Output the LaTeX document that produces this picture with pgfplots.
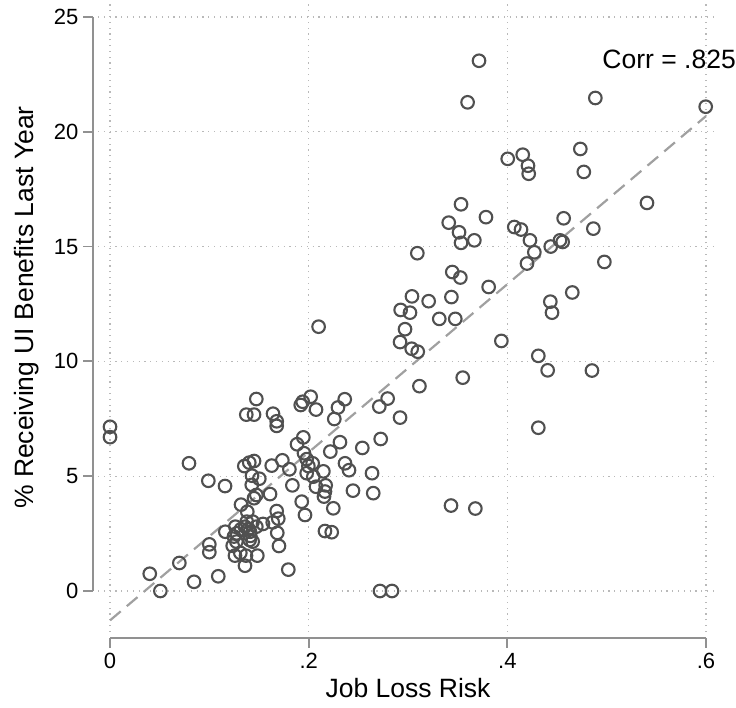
\documentclass[border=0pt]{standalone}
\usepackage{fontspec}
\setmainfont{Liberation Sans}
\usepackage{pgfplots}
\pgfplotsset{compat=1.18}
\definecolor{mk}{RGB}{80,80,80}
\definecolor{fitc}{RGB}{160,160,160}
\definecolor{axc}{RGB}{145,145,145}
\definecolor{grc}{RGB}{185,185,185}
\begin{document}
\begin{tikzpicture}
\useasboundingbox (-98pt,-76pt) rectangle (638pt,632pt);
\begin{axis}[
  scale only axis, width=620pt, height=630pt,
  xmin=-0.0121, xmax=0.6121, ymin=-1.786, ymax=25.65,
  clip=false,
  axis line style={draw=none}, tick style={draw=none},
  xtick={0,0.2,0.4,0.6}, xticklabels={0,.2,.4,.6},
  ytick={0,5,10,15,20,25}, yticklabels={0,5,10,15,20,25},
  grid=major,
  major grid style={color=grc, line width=1.2pt, dash pattern=on 1.2pt off 4.6pt},
  /pgf/number format/assume math mode=true,
  xticklabel style={font=\fontsize{22}{24}\selectfont, yshift=-18pt},
  yticklabel style={font=\fontsize{22}{24}\selectfont, xshift=-16pt},
  xlabel={Job Loss Risk},
  ylabel={\% Receiving UI Benefits Last Year},
  xlabel style={font=\fontsize{26.5}{30}\selectfont, at={(axis description cs:0.5,-0.068)}, anchor=north},
  ylabel style={font=\fontsize{26.5}{30}\selectfont, at={(axis description cs:-0.1145,0.515)}, anchor=center},
  every mark/.append style={line width=2.1pt},
]
% offset axis lines and ticks (Stata style)
\draw[axc, line width=1.8pt] (axis cs:-0.0171,0) -- (axis cs:-0.0171,25);
\draw[axc, line width=1.8pt] (axis cs:0,-2.047) -- (axis cs:0.6,-2.047);
\draw[axc, line width=1.8pt] (axis cs:-0.0171,0) -- (axis cs:-0.0272,0);
\draw[axc, line width=1.8pt] (axis cs:-0.0171,5) -- (axis cs:-0.0272,5);
\draw[axc, line width=1.8pt] (axis cs:-0.0171,10) -- (axis cs:-0.0272,10);
\draw[axc, line width=1.8pt] (axis cs:-0.0171,15) -- (axis cs:-0.0272,15);
\draw[axc, line width=1.8pt] (axis cs:-0.0171,20) -- (axis cs:-0.0272,20);
\draw[axc, line width=1.8pt] (axis cs:-0.0171,25) -- (axis cs:-0.0272,25);
\draw[axc, line width=1.8pt] (axis cs:0,-2.047) -- (axis cs:0,-2.483);
\draw[axc, line width=1.8pt] (axis cs:0.2,-2.047) -- (axis cs:0.2,-2.483);
\draw[axc, line width=1.8pt] (axis cs:0.4,-2.047) -- (axis cs:0.4,-2.483);
\draw[axc, line width=1.8pt] (axis cs:0.6,-2.047) -- (axis cs:0.6,-2.483);
\addplot[only marks, mark=o, mark size=6.3pt, draw=mk, line width=2.1pt] coordinates {
(0.3715,23.09) (0.360,21.28) (0.4886,21.47) (0.5997,21.09)
(0.4004,18.82) (0.4155,19.0) (0.4208,18.52) (0.4215,18.17)
(0.4735,19.25) (0.477,18.25) (0.3534,16.84) (0.341,16.04)
(0.3785,16.28) (0.3514,15.62) (0.3534,15.16) (0.3668,15.27)
(0.3094,14.71) (0.407,15.85) (0.4138,15.74) (0.4228,15.27)
(0.4272,14.75) (0.4198,14.26) (0.4437,15.0) (0.4530,15.27)
(0.4557,15.2) (0.4567,16.23) (0.4866,15.78) (0.5406,16.9)
(0.4977,14.33) (0.3446,13.89) (0.3527,13.65) (0.3812,13.24)
(0.4654,13.0) (0.304,12.83) (0.3208,12.62) (0.3437,12.8)
(0.4433,12.6) (0.445,12.12) (0.2926,12.24) (0.302,12.12)
(0.3315,11.85) (0.3476,11.85) (0.297,11.4) (0.292,10.84)
(0.3037,10.55) (0.3098,10.42) (0.394,10.89) (0.4312,10.24)
(0.4406,9.61) (0.4852,9.6) (0.4312,7.11) (0.3551,9.29)
(0.3115,8.92) (0.2795,8.38) (0.2711,8.03) (0.292,7.55)
(0.2725,6.62) (0.3433,3.72) (0.3678,3.59) (0.2718,0) (0.2839,0)
(0.21,11.51) (0.2363,8.35) (0.2295,7.99) (0.2258,7.49)
(0.2074,7.9) (0.202,8.46) (0.194,8.24) (0.192,8.1)
(0.1473,8.36) (0.1372,7.68) (0.145,7.68) (0.1641,7.72)
(0.1678,7.39) (0.1678,7.19) (0.254,6.23) (0.2315,6.48)
(0.2218,6.07) (0.1946,6.69) (0.1883,6.39) (0.1953,6.0)
(0.198,5.74) (0.2366,5.56) (0.2406,5.26) (0.2148,5.21)
(0.2638,5.13) (0.265,4.26) (0.2446,4.37) (0.204,5.56)
(0.1997,5.44) (0.198,5.13) (0.2047,4.98) (0.2074,4.54)
(0.2171,4.6) (0.2164,4.33) (0.2154,4.11) (0.2248,3.6)
(0.193,3.89) (0.1963,3.31) (0.2164,2.61) (0.2232,2.56)
(0.0795,5.56) (0.099,4.8) (0.1158,4.57) (0.1352,5.44)
(0.1402,5.59) (0.145,5.66) (0.1628,5.46) (0.1735,5.69)
(0.1806,5.3) (0.1836,4.6) (0.143,5.02) (0.1503,4.89)
(0.1427,4.62) (0.1473,4.18) (0.145,4.04) (0.1611,4.22)
(0.1319,3.76) (0.1382,3.45) (0.1678,3.48) (0.1694,3.15)
(0.1638,2.99) (0.154,2.92) (0.1684,2.53) (0.1701,1.96)
(0.1483,1.54) (0.1795,0.93) (0.1359,1.1) (0.109,0.64)
(0.0846,0.4) (0.0698,1.22) (0.1,2.03) (0.1,1.69)
(0.1161,2.58) (0.04,0.75) (0.0507,0) (0,7.15) (0,6.7)
(0.1262,2.8) (0.1275,2.51) (0.1248,2.37) (0.1272,2.15)
(0.1235,1.97) (0.1258,1.54) (0.1312,1.66) (0.1369,1.54)
(0.1359,2.8) (0.1409,2.58) (0.1412,2.4) (0.1406,2.22)
(0.1436,2.15) (0.1396,2.7) (0.1473,2.8) (0.1436,3.02)
(0.1319,2.69) (0.1376,3.02)
};
\addplot[fitc, line width=2.2pt, dash pattern=on 14pt off 8pt] coordinates {(0,-1.28) (0.6,20.68)};
\node[anchor=base east, inner sep=0pt, font=\fontsize{26.5}{30}\selectfont] at (axis description cs:1.029,0.8952) {Corr = .825};
\end{axis}
\end{tikzpicture}
\end{document}
